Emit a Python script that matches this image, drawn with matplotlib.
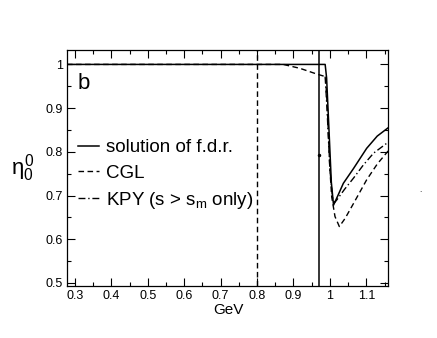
import matplotlib
matplotlib.use("Agg")
import matplotlib.pyplot as plt
from matplotlib.ticker import MultipleLocator

plt.rcParams['font.family'] = ['Liberation Sans', 'DejaVu Sans']
plt.rcParams['mathtext.fontset'] = 'custom'
plt.rcParams['mathtext.rm'] = 'Liberation Sans'
plt.rcParams['mathtext.it'] = 'Liberation Sans'

# solution of f.d.r.
sol_x = [0.278, 0.80, 0.95, 0.987, 0.991, 0.997, 1.004, 1.010, 1.022, 1.037, 1.065, 1.101, 1.130, 1.160]
sol_y = [1.0, 1.0, 1.0, 1.0, 0.969, 0.86, 0.73, 0.678, 0.700, 0.728, 0.762, 0.808, 0.836, 0.855]
# CGL
cgl_x = [0.278, 0.80, 0.872, 0.918, 0.964, 0.988, 0.993, 1.000, 1.005, 1.014, 1.026, 1.042, 1.065, 1.101, 1.130, 1.160]
cgl_y = [1.0, 1.0, 1.0, 0.991, 0.978, 0.972, 0.90, 0.76, 0.697, 0.652, 0.629, 0.648, 0.682, 0.736, 0.772, 0.802]
# KPY (s > s_m only)
kpy_x = [0.987, 0.992, 1.000, 1.008, 1.013, 1.019, 1.040, 1.065, 1.092, 1.120, 1.160]
kpy_y = [0.972, 0.90, 0.76, 0.69, 0.684, 0.690, 0.714, 0.740, 0.770, 0.797, 0.822]

vline_dashed = 0.80
vline_solid = 0.970

fig = plt.figure(figsize=(4.37, 3.38), dpi=100)
ax = fig.add_axes([67/437, 1-286/338, (388-67)/437, (286-50)/338])

ax.plot(sol_x, sol_y, color='black', lw=1.1, ls='-', label='solution of f.d.r.')
ax.plot(cgl_x, cgl_y, color='black', lw=1.0, ls=(0, (4, 2.5)), label='CGL')
ax.plot(kpy_x, kpy_y, color='black', lw=1.0, ls=(0, (5, 2, 1, 2)), label='KPY (s > s$_\\mathrm{m}$ only)')

ax.axvline(vline_dashed, color='black', lw=1.0, ls=(0, (4, 2.5)))
ax.axvline(vline_solid, color='black', lw=1.1)
ax.plot([vline_solid], [0.793], marker='o', ms=1.5, color='black')

ax.set_xlim(0.278, 1.1596)
ax.set_ylim(0.493, 1.033)

ax.xaxis.set_minor_locator(MultipleLocator(0.05))
ax.yaxis.set_minor_locator(MultipleLocator(0.05))
ax.set_xticks([0.3, 0.4, 0.5, 0.6, 0.7, 0.8, 0.9, 1.0, 1.1])
ax.set_xticklabels(['0.3', '0.4', '0.5', '0.6', '0.7', '0.8', '0.9', '1', '1.1'])
ax.set_yticks([0.5, 0.6, 0.7, 0.8, 0.9, 1.0])
ax.set_yticklabels(['0.5', '0.6', '0.7', '0.8', '0.9', '1'])
ax.tick_params(which='both', direction='in', top=True, right=True, labelsize=9, width=0.8)
ax.tick_params(which='major', length=6, pad=3)
ax.tick_params(which='minor', length=3)
for s in ax.spines.values():
    s.set_linewidth(0.9)

fig.text(228/437, 1-314/338, 'GeV', fontsize=11, ha='center', va='baseline')
fig.text(23/437, 1-168/338, '$\\eta_0^0$', fontsize=16, ha='center', va='center')

ax.text(0.034, 0.835, 'b', transform=ax.transAxes, fontsize=16, va='baseline')

ax.legend(loc='upper left', bbox_to_anchor=(0.0, 0.669), frameon=False, fontsize=13.5,
          handlelength=1.1, handletextpad=0.4, labelspacing=0.43, borderaxespad=0.3,
          borderpad=0.3)

fig.text(420/437, 1-192/338, '.', fontsize=6, ha='center')

fig.savefig('out.png', dpi=100)
